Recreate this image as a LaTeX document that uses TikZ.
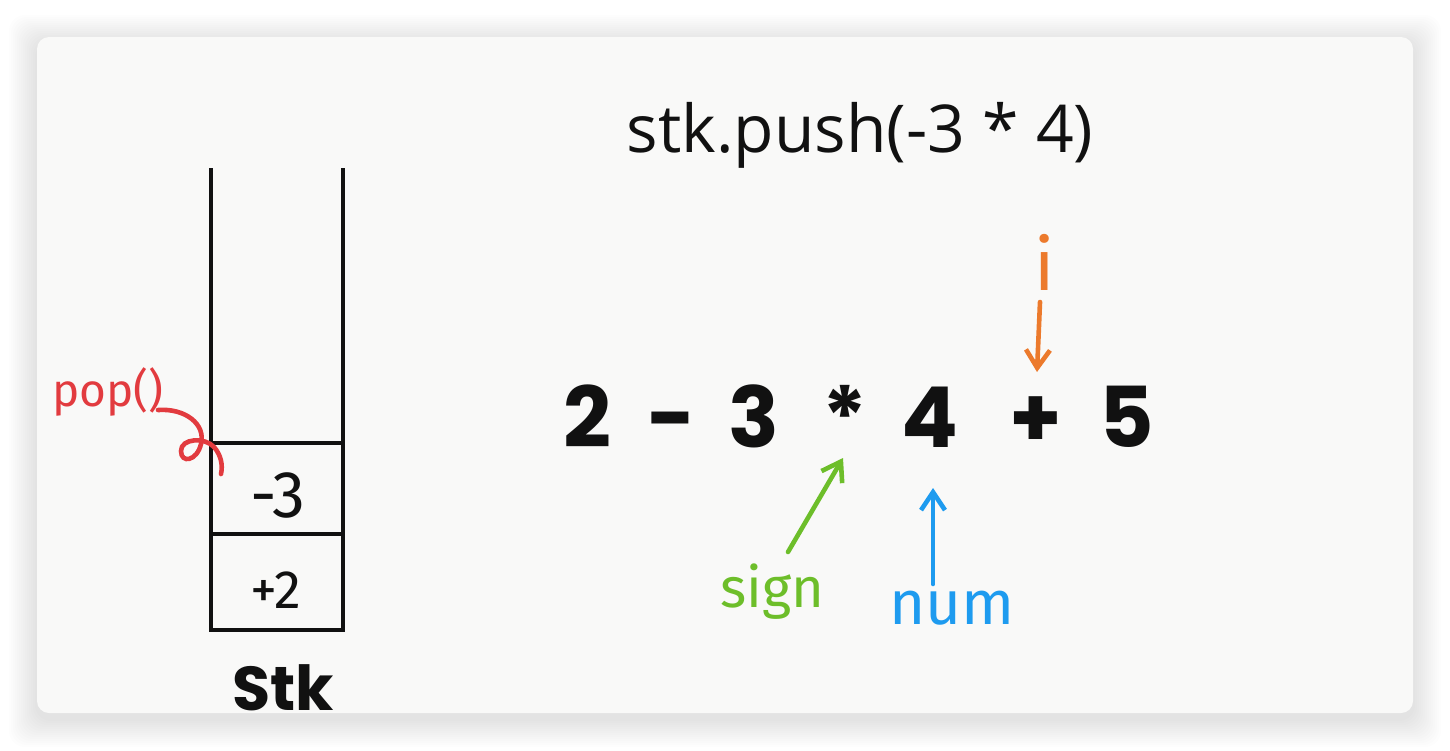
\documentclass[tikz,border=0pt]{standalone}
\usepackage{fontspec}
\setmainfont{Open Sans}
\newfontfamily\exprfont{Poppins}[BoldFont={Poppins Bold}]
\newfontfamily\handfont{Fira Sans}
\usetikzlibrary{arrows.meta}

\definecolor{ink}{HTML}{111111}
\definecolor{card}{HTML}{F9F9F8}
\definecolor{popred}{HTML}{E23B3F}
\definecolor{iorange}{HTML}{EC7A2C}
\definecolor{signgreen}{HTML}{6DBE2A}
\definecolor{numblue}{HTML}{1E9BEF}

\begin{document}
\begin{tikzpicture}[
    x=1pt, y=-1pt,
    >={Straight Barb[length=18pt,width=24pt]},
    cell/.style={draw=ink, line width=3.4pt},
    glyph/.style={font=\exprfont\bfseries\fontsize{84}{84}\selectfont, anchor=base, inner sep=0pt, text=ink},
    hand/.style={font=\handfont\fontsize{#1}{#1}\selectfont, inner sep=0pt},
    hand/.default=50,
    arr/.style={->, line width=4.6pt, line cap=round, line join=round}
]
    \useasboundingbox (0,0) rectangle (1450,750);
    \fill[white] (0,0) rectangle (1450,750);

    % card with soft shadow
    \foreach \s in {2,4,...,28}
        \fill[black, opacity=0.009, rounded corners=16pt]
            (37-\s,43-\s) rectangle (1413+\s,719+\s);
    \fill[card, rounded corners=12pt] (37,37) rectangle (1413,713);

    % the stack
    \draw[cell] (211,168) -- (211,630) -- (343,630) -- (343,168);
    \draw[cell] (211,443) -- (343,443);
    \draw[cell] (211,534) -- (343,534);
    \node[hand=66, text=ink] (popval) at (278,495) {-3};
    \node[hand=54, text=ink] (botval) at (276,590) {+2};
    \node[font=\exprfont\bfseries\fontsize{62}{62}\selectfont, text=ink] (stklbl) at (283,688) {Stk};

    % pop() with its curl
    \node[hand=46, text=popred] (poplbl) at (108,392) {pop()};
    \coordinate (curlstart) at (158,410);
    \coordinate (curlend) at (221,474);
    \draw[popred, line width=4.6pt, line cap=round]
        (curlstart) .. controls (185,408) and (206,424) .. (201,444)
        .. controls (197,461) and (181,464) .. (181,451)
        .. controls (181,438) and (205,437) .. (214,447)
        .. controls (221,455) and (223,465) .. (curlend);

    % title
    \node[font=\fontsize{66}{66}\selectfont, anchor=base, text=ink] (title) at (860,152) {stk.push(-3 * 4)};

    % the expression
    \foreach \ch/\xx/\nm in {2/587/n2, -/672/minus, 3/754/n3, */845/star, 4/930/n4, +/1036/plus, 5/1127/n5}
        \node[glyph] (\nm) at (\xx,447) {\ch};

    % pointers
    \node[hand=72, text=iorange] (ilbl) at (1045,262) {i};
    \coordinate (itail) at (1040,302);
    \coordinate (itip) at (1037,372);
    \draw[arr, iorange] (itail) -- (itip);

    \node[hand=56, text=signgreen] (signlbl) at (772,592) {sign};
    \coordinate (signtail) at (788,552);
    \coordinate (signtip) at (843,458);
    \draw[arr, signgreen] (signtail) -- (signtip);

    \node[hand=62, text=numblue] (numlbl) at (952,608) {num};
    \coordinate (numtail) at (933,584);
    \coordinate (numtip) at (933,488);
    \draw[arr, numblue] (numtail) -- (numtip);
\end{tikzpicture}
\end{document}
